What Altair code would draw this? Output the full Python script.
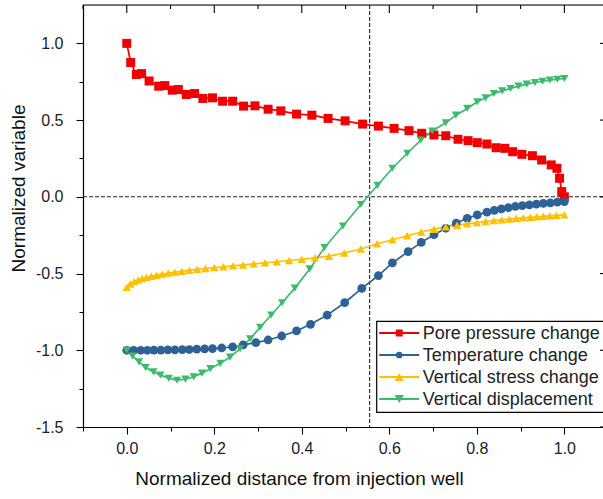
import altair as alt
import pandas as pd

# ---- series definitions -------------------------------------------------
series_names = ["Pore pressure change", "Temperature change",
                "Vertical stress change", "Vertical displacement"]
series_colors = ["#f00000", "#2e6296", "#ffc000", "#3cbb6c"]
series_shapes = ["square", "circle", "triangle-up", "triangle-down"]
series_sizes = [81, 68, 85, 85]
legend_sizes = [49, 45, 85, 85]

pore_x = [0.0, 0.009, 0.022, 0.034, 0.051, 0.073, 0.087, 0.104, 0.118, 0.136,
          0.155, 0.174, 0.196, 0.219, 0.242, 0.267, 0.293, 0.323, 0.352, 0.388,
          0.423, 0.460, 0.499, 0.539, 0.575, 0.611, 0.645, 0.674, 0.702, 0.729,
          0.757, 0.780, 0.801, 0.823, 0.844, 0.864, 0.882, 0.903, 0.927, 0.948,
          0.970, 0.983, 0.989, 0.994, 1.0]
pore_y = [1.0, 0.875, 0.797, 0.803, 0.755, 0.721, 0.725, 0.695, 0.699, 0.667,
          0.673, 0.641, 0.645, 0.623, 0.623, 0.591, 0.593, 0.571, 0.560, 0.539,
          0.532, 0.511, 0.495, 0.474, 0.461, 0.446, 0.431, 0.414, 0.403, 0.398,
          0.375, 0.366, 0.353, 0.344, 0.320, 0.316, 0.294, 0.277, 0.268, 0.240,
          0.208, 0.186, 0.121, 0.034, 0.0]

temp_x = [0.0, 0.016, 0.032, 0.047, 0.062, 0.078, 0.094, 0.110, 0.127, 0.143,
          0.160, 0.178, 0.196, 0.217, 0.242, 0.266, 0.295, 0.323, 0.354, 0.388,
          0.420, 0.458, 0.498, 0.537, 0.575, 0.607, 0.643, 0.673, 0.702, 0.729,
          0.753, 0.778, 0.801, 0.823, 0.840, 0.856, 0.872, 0.888, 0.904, 0.920,
          0.936, 0.952, 0.968, 0.984, 1.0]
temp_y = [-1.0, -1.0, -1.0, -1.0, -0.999, -0.999, -0.998, -0.997, -0.996, -0.995,
          -0.993, -0.991, -0.989, -0.985, -0.978, -0.965, -0.950, -0.933, -0.907, -0.874,
          -0.831, -0.771, -0.690, -0.597, -0.513, -0.431, -0.357, -0.297, -0.247, -0.205,
          -0.171, -0.140, -0.118, -0.100, -0.088, -0.078, -0.070, -0.063, -0.057, -0.052,
          -0.047, -0.043, -0.039, -0.035, -0.031]

stress_x = [0.0, 0.008, 0.017, 0.026, 0.035, 0.045, 0.056, 0.068, 0.081, 0.095,
            0.110, 0.126, 0.143, 0.161, 0.180, 0.200, 0.221, 0.243, 0.266, 0.290,
            0.316, 0.343, 0.371, 0.400, 0.430, 0.462, 0.497, 0.535, 0.572, 0.607,
            0.641, 0.673, 0.702, 0.729, 0.755, 0.778, 0.800, 0.820, 0.839, 0.857,
            0.874, 0.890, 0.906, 0.922, 0.937, 0.952, 0.967, 0.982, 1.0]
stress_y = [-0.59, -0.568, -0.553, -0.542, -0.533, -0.525, -0.518, -0.511, -0.504, -0.497,
            -0.491, -0.485, -0.479, -0.473, -0.467, -0.461, -0.456, -0.450, -0.444, -0.437,
            -0.430, -0.423, -0.415, -0.407, -0.398, -0.387, -0.366, -0.340, -0.306, -0.280,
            -0.254, -0.229, -0.211, -0.196, -0.185, -0.176, -0.168, -0.161, -0.155, -0.150,
            -0.145, -0.141, -0.137, -0.133, -0.130, -0.127, -0.124, -0.121, -0.118]

disp_x = [0.0, 0.013, 0.028, 0.043, 0.061, 0.077, 0.096, 0.115, 0.134, 0.153,
          0.172, 0.191, 0.214, 0.236, 0.259, 0.282, 0.305, 0.330, 0.355, 0.384,
          0.418, 0.452, 0.494, 0.535, 0.573, 0.607, 0.641, 0.672, 0.698, 0.729,
          0.752, 0.778, 0.801, 0.820, 0.839, 0.858, 0.877, 0.895, 0.914, 0.933,
          0.950, 0.967, 0.984, 1.0]
disp_y = [-1.0, -1.037, -1.076, -1.113, -1.141, -1.162, -1.182, -1.195, -1.188, -1.173,
          -1.149, -1.12, -1.085, -1.045, -0.99, -0.925, -0.85, -0.77, -0.69, -0.595,
          -0.47, -0.33, -0.19, -0.05, 0.075, 0.186, 0.284, 0.37, 0.429, 0.482,
          0.532, 0.576, 0.619, 0.645, 0.673, 0.69, 0.706, 0.721, 0.734, 0.745,
          0.753, 0.760, 0.766, 0.771]

# axis ticks (major + minor) and reference lines
x_ticks = [-0.1, 0.0, 0.1, 0.2, 0.3, 0.4, 0.5, 0.6, 0.7, 0.8, 0.9, 1.0]
y_ticks = [-1.5, -1.25, -1.0, -0.75, -0.5, -0.25, 0.0, 0.25, 0.5, 0.75, 1.0]
x_marker_line = [0.555]
y_marker_line = [0.0]

X_DOMAIN = [-0.1, 1.0883]
Y_DOMAIN = [-1.5, 1.25]
W, H = 520, 422
FONT = "Liberation Sans"

rows = []
for name, xs, ys in zip(series_names,
                        [pore_x, temp_x, stress_x, disp_x],
                        [pore_y, temp_y, stress_y, disp_y]):
    for i, (a, b) in enumerate(zip(xs, ys)):
        rows.append({"series": name, "idx": i, "x": a, "y": b})
df = pd.DataFrame(rows)

x_scale = alt.Scale(domain=X_DOMAIN, nice=False, zero=False)
y_scale = alt.Scale(domain=Y_DOMAIN, nice=False, zero=False)

x_axis = alt.Axis(
    values=x_ticks,
    labelExpr="round(datum.value*10) % 2 === 0 && datum.value > -0.05 ? format(datum.value, '.1f') : ''",
    tickSize={"condition": {"test": "round(datum.value*10) % 2 === 0", "value": 7}, "value": 4},
    labelPadding=6, labelFontSize=16, labelColor="#222222", labelFont=FONT,
    title="Normalized distance from injection well", titleFontSize=19,
    titleFont=FONT, titleFontWeight="normal", titleColor="#111111",
    titleX=216, titleY=42, titleAnchor="middle",
    domainColor="black", domainWidth=1.2, tickColor="black", tickWidth=1.1,
    grid=False,
)
y_axis = alt.Axis(
    values=y_ticks,
    labelExpr="round(datum.value*4) % 2 === 0 ? replace(format(datum.value, '.1f'), '\u2212', '-') : ''",
    tickSize={"condition": {"test": "round(datum.value*4) % 2 === 0", "value": 7}, "value": 4},
    labelPadding=13, labelFontSize=16, labelColor="#222222", labelFont=FONT,
    title="Normalized variable", titleFontSize=19, titleFont=FONT,
    titleFontWeight="normal", titleColor="#111111",
    titleX=-55, titleY=183,
    domainColor="black", domainWidth=1.2, tickColor="black", tickWidth=1.1,
    grid=False,
)

color_scale = alt.Scale(domain=series_names, range=series_colors)
shape_scale = alt.Scale(domain=series_names, range=series_shapes)
size_scale = alt.Scale(domain=series_names, range=series_sizes)

lines = alt.Chart(df).mark_line(strokeWidth=1.7).encode(
    x=alt.X("x:Q", scale=x_scale, axis=x_axis),
    y=alt.Y("y:Q", scale=y_scale, axis=y_axis),
    color=alt.Color("series:N", scale=color_scale, legend=None),
    order=alt.Order("idx:Q"),
)

points = alt.Chart(df).mark_point(filled=True, opacity=1).encode(
    x="x:Q",
    y="y:Q",
    color=alt.Color("series:N", scale=color_scale, legend=None),
    shape=alt.Shape("series:N", scale=shape_scale, legend=None),
    size=alt.Size("series:N", scale=size_scale, legend=None),
)

hline = alt.Chart(pd.DataFrame({"y": y_marker_line})).mark_rule(
    color="#222222", strokeWidth=1.1, strokeDash=[4, 2]).encode(y="y:Q")
vline = alt.Chart(pd.DataFrame({"x": x_marker_line})).mark_rule(
    color="#222222", strokeWidth=1.1, strokeDash=[4, 2]).encode(x="x:Q")

# top frame with inward ticks, and the inward right-hand tick ends
top_line = alt.Chart(pd.DataFrame({"x": [0.0]})).mark_rule(color="black", strokeWidth=1.2).encode(
    x=alt.value(0), x2=alt.value(W), y=alt.value(0))
top_major = alt.Chart(pd.DataFrame({"x": [t for t in x_ticks if round(t * 10) % 2 == 0]})).mark_rule(
    color="black", strokeWidth=1.1).encode(x="x:Q", y=alt.value(0), y2=alt.value(8))
top_minor = alt.Chart(pd.DataFrame({"x": [t for t in x_ticks if round(t * 10) % 2 != 0]})).mark_rule(
    color="black", strokeWidth=1.1).encode(x="x:Q", y=alt.value(0), y2=alt.value(4))
right_major = alt.Chart(pd.DataFrame({"y": [t for t in y_ticks if round(t * 4) % 2 == 0]})).mark_rule(
    color="black", strokeWidth=1.1).encode(y="y:Q", x=alt.value(W - 3), x2=alt.value(W))

# legend box with line + marker samples
LEG_LEFT, LEG_TOP, LEG_ROW0, LEG_STEP = 293.7, 316.3, 328, 22
legend_layers = [
    alt.Chart(pd.DataFrame({"series": ["box"]})).mark_rect(
        fill="white", stroke="black", strokeWidth=1.2).encode(
        x=alt.value(LEG_LEFT), x2=alt.value(W + 10),
        y=alt.value(LEG_TOP), y2=alt.value(LEG_TOP + 91))
]
for i, (name, col, shp, sz) in enumerate(zip(series_names, series_colors, series_shapes, legend_sizes)):
    yy = LEG_ROW0 + LEG_STEP * i
    entry = pd.DataFrame({"series": [name]})
    legend_layers.append(
        alt.Chart(entry).mark_rule(color=col, strokeWidth=2).encode(
            x=alt.value(LEG_LEFT + 2.5), x2=alt.value(LEG_LEFT + 42.5), y=alt.value(yy)))
    legend_layers.append(
        alt.Chart(entry).mark_point(filled=True, opacity=1, color=col, shape=shp,
                                    size=sz).encode(
            x=alt.value(LEG_LEFT + 22.5), y=alt.value(yy)))
    legend_layers.append(
        alt.Chart(entry).mark_text(align="left", baseline="middle", fontSize=18,
                                   font=FONT, color="#222222").encode(
            x=alt.value(LEG_LEFT + 46), y=alt.value(yy + 1), text="series:N"))

chart = alt.layer(
    hline, vline, lines, points, *legend_layers, top_line, top_major, top_minor, right_major
).properties(
    width=W, height=H,
    autosize=alt.AutoSizeParams(type="none"),
    padding={"left": 83, "top": 5, "right": 0, "bottom": 72},
).configure_view(
    stroke=None
).configure(
    font=FONT, background="white"
)

chart.save("out.html", embed_options={"renderer": "svg", "actions": False})
